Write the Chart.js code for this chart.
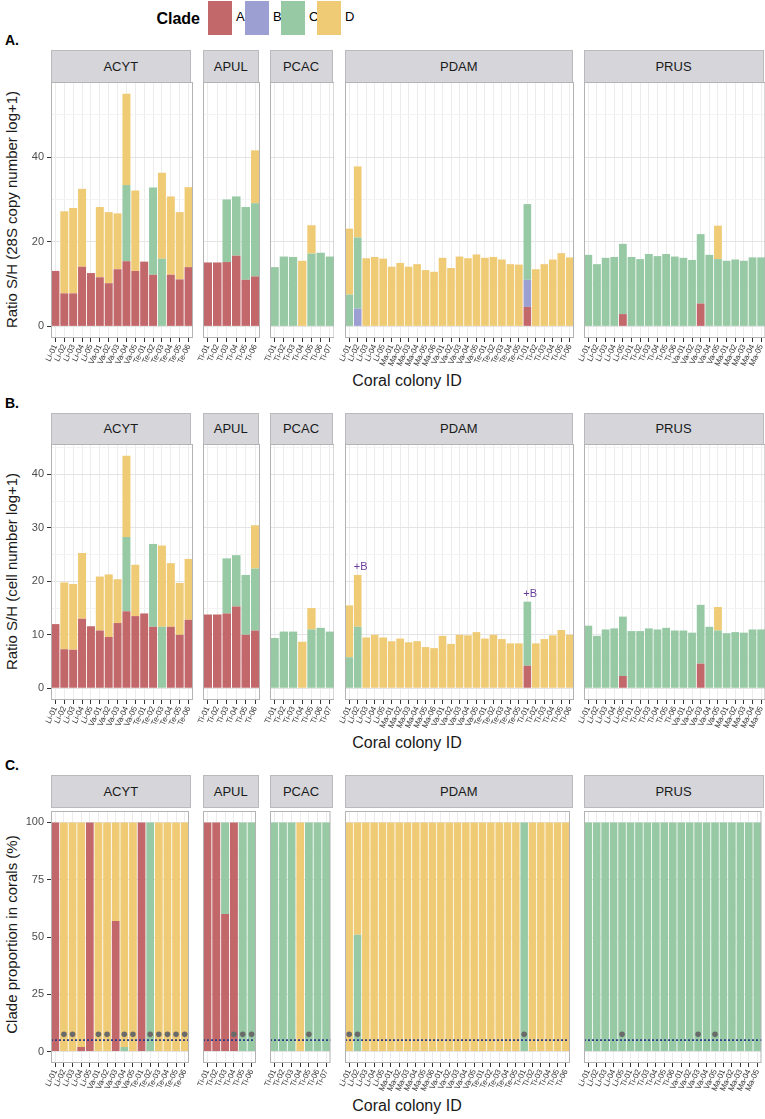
<!DOCTYPE html>
<html lang="en">
<head>
<meta charset="UTF-8">
<title>Clade ratios per coral colony</title>
<style>
    body { margin: 0; background: #fff; font-family: "Liberation Sans", Arial, sans-serif; }
    #page { position: relative; width: 765px; height: 1119px; overflow: hidden; }
    .box { position: absolute; }
    .strip { position: absolute; box-sizing: border-box; background: #d5d5da; border: 1px solid #b9b9be;
             color: #1a1a1a; font-size: 13px; display: flex; align-items: center; justify-content: center; }
    .ytitle { position: absolute; width: 320px; margin-left: -160px; text-align: center; font-size: 15px;
              color: #1a1a1a; transform: rotate(-90deg); white-space: nowrap; }
    .xtitle { position: absolute; left: 50px; width: 714px; text-align: center; font-size: 16px; color: #1a1a1a; }
    .tag { position: absolute; left: 5px; font-weight: bold; font-size: 14px; }
    .key { position: absolute; width: 24px; height: 34px; top: 1px; }
    .keylab { position: absolute; top: 9px; font-size: 13px; }
</style>
</head>
<body>
<div id="page"></div>
<script src="https://cdn.jsdelivr.net/npm/chart.js@4.4.1/dist/chart.umd.min.js"></script>
<script>
    'use strict';

    // colonies per coral species (facets)
    var facetNames = ['ACYT', 'APUL', 'PCAC', 'PDAM', 'PRUS'];
    var idsACYT = ['Li-01', 'Li-02', 'Li-03', 'Li-04', 'Li-05', 'Va-01', 'Va-02', 'Va-03', 'Va-04', 'Va-05',
        'Te-01', 'Te-02', 'Te-03', 'Te-04', 'Te-05', 'Te-06'];
    var idsAPUL = ['Ti-01', 'Ti-02', 'Ti-03', 'Ti-04', 'Ti-05', 'Ti-06'];
    var idsPCAC = ['Ti-01', 'Ti-02', 'Ti-03', 'Ti-04', 'Ti-05', 'Ti-06', 'Ti-07'];
    var idsPDAM = ['Li-01', 'Li-02', 'Li-03', 'Li-04', 'Li-05', 'Ma-01', 'Ma-02', 'Ma-03', 'Ma-04', 'Ma-05', 'Ma-06',
        'Va-01', 'Va-02', 'Va-03', 'Va-04', 'Va-05', 'Te-01', 'Te-02', 'Te-03', 'Te-04', 'Te-05',
        'Ti-01', 'Ti-02', 'Ti-03', 'Ti-04', 'Ti-05', 'Ti-06'];
    var idsPRUS = ['Li-01', 'Li-02', 'Li-03', 'Li-04', 'Li-05', 'Ti-01', 'Ti-02', 'Ti-03', 'Ti-04', 'Ti-05', 'Ti-06',
        'Va-01', 'Va-02', 'Va-03', 'Va-04', 'Va-05', 'Ma-01', 'Ma-02', 'Ma-03', 'Ma-04', 'Ma-05'];
    var facetIds = [idsACYT, idsAPUL, idsPCAC, idsPDAM, idsPRUS];

    var clades = ['A', 'B', 'C', 'D'];
    var cladeColors = ['#c2686a', '#9c9fd2', '#96c9a4', '#f0cb76'];

    // A. ratio S/H, 28S copy number (segment heights, colonies in facet order: ACYT, APUL, PCAC, PDAM, PRUS)
    var copyA = [13.1, 7.8, 7.8, 14.1, 12.6, 11.6, 10.2, 13.5, 15.4, 13.1, 15.3, 12.2, 0, 12.2, 11.1, 14.0,
        15.1, 15.1, 15.2, 16.7, 11.0, 11.8,
        0, 0, 0, 0, 0, 0, 0,
        0, 0, 0, 0, 0, 0, 0, 0, 0, 0, 0, 0, 0, 0, 0, 0, 0, 0, 0, 0, 0, 4.6, 0, 0, 0, 0, 0,
        0, 0, 0, 0, 2.9, 0, 0, 0, 0, 0, 0, 0, 0, 5.4, 0, 0, 0, 0, 0, 0, 0];
    var copyB = [0, 0, 0, 0, 0, 0, 0, 0, 0, 0, 0, 0, 0, 0, 0, 0,
        0, 0, 0, 0, 0, 0,
        0, 0, 0, 0, 0, 0, 0,
        0, 4.2, 0, 0, 0, 0, 0, 0, 0, 0, 0, 0, 0, 0, 0, 0, 0, 0, 0, 0, 0, 6.4, 0, 0, 0, 0, 0,
        0, 0, 0, 0, 0, 0, 0, 0, 0, 0, 0, 0, 0, 0, 0, 0, 0, 0, 0, 0, 0];
    var copyC = [0, 0, 0, 0, 0, 0, 0, 0, 18.0, 0, 0, 20.6, 16.0, 0, 0, 0,
        0, 0, 14.8, 14.0, 17.2, 17.3,
        14.0, 16.5, 16.4, 0, 17.2, 17.4, 16.5,
        7.5, 16.8, 0, 0, 0, 0, 0, 0, 0, 0, 0, 0, 0, 0, 0, 0, 0, 0, 0, 0, 0, 17.9, 0, 0, 0, 0, 0,
        16.9, 14.7, 16.2, 16.4, 16.6, 16.4, 15.9, 17.1, 16.6, 17.1, 16.5, 16.2, 15.7, 16.4, 16.9, 15.9, 15.5, 15.8, 15.5, 16.3, 16.3];
    var copyD = [0, 19.4, 20.2, 18.4, 0, 16.6, 16.8, 13.2, 21.6, 19.0, 0, 0, 20.3, 18.5, 15.9, 18.9,
        0, 0, 0, 0, 0, 12.5,
        0, 0, 0, 15.5, 6.7, 0, 0,
        15.6, 16.8, 16.1, 16.4, 16.0, 14.1, 15.0, 14.1, 14.7, 13.3, 12.9, 16.2, 13.8, 16.5, 16.1, 17.0, 16.2, 16.4, 15.8, 14.7, 14.6, 0, 13.5, 14.7, 15.8, 17.3, 16.3,
        0, 0, 0, 0, 0, 0, 0, 0, 0, 0, 0, 0, 0, 0, 0, 7.9, 0, 0, 0, 0, 0];

    // B. ratio S/H, cell number
    var cellA = [12.0, 7.3, 7.2, 13.0, 11.6, 10.8, 9.6, 12.2, 14.4, 13.5, 14.0, 11.5, 0, 11.5, 10.0, 12.8,
        13.8, 13.8, 14.0, 15.3, 10.0, 10.8,
        0, 0, 0, 0, 0, 0, 0,
        0, 0, 0, 0, 0, 0, 0, 0, 0, 0, 0, 0, 0, 0, 0, 0, 0, 0, 0, 0, 0, 4.2, 0, 0, 0, 0, 0,
        0, 0, 0, 0, 2.3, 0, 0, 0, 0, 0, 0, 0, 0, 4.6, 0, 0, 0, 0, 0, 0, 0];
    var cellB = copyB.map(function () { return 0; });
    var cellC = [0, 0, 0, 0, 0, 0, 0, 0, 13.9, 0, 0, 15.5, 11.5, 0, 0, 0,
        0, 0, 10.3, 9.6, 11.2, 11.6,
        9.4, 10.6, 10.6, 0, 11.0, 11.3, 10.6,
        5.8, 11.5, 0, 0, 0, 0, 0, 0, 0, 0, 0, 0, 0, 0, 0, 0, 0, 0, 0, 0, 0, 12.0, 0, 0, 0, 0, 0,
        11.7, 9.8, 11.0, 11.2, 11.1, 10.7, 10.7, 11.2, 11.0, 11.3, 10.8, 10.8, 10.4, 11.0, 11.5, 10.8, 10.3, 10.5, 10.4, 11.0, 11.0];
    var cellD = [0, 12.5, 12.3, 12.3, 0, 10.1, 11.7, 8.2, 15.2, 9.6, 0, 0, 15.2, 11.9, 9.7, 11.4,
        0, 0, 0, 0, 0, 8.1,
        0, 0, 0, 8.7, 4.0, 0, 0,
        9.7, 9.7, 9.5, 10.0, 9.5, 8.8, 9.3, 8.6, 8.8, 7.7, 7.5, 9.8, 8.3, 10.0, 9.9, 10.5, 9.3, 10.0, 9.2, 8.4, 8.4, 0, 8.4, 9.2, 9.9, 10.9, 10.0,
        0, 0, 0, 0, 0, 0, 0, 0, 0, 0, 0, 0, 0, 0, 0, 4.4, 0, 0, 0, 0, 0];
    var cellNotes = [[3, 1, '+B'], [3, 21, '+B']];   // [facet, colony index, label]

    // C. clade proportion in corals (%)
    var propA = [100, 0, 0, 2, 100, 0, 0, 57, 0, 0, 100, 0, 0, 0, 0, 0,
        100, 100, 60, 100, 0, 0,
        0, 0, 0, 0, 0, 0, 0,
        0, 0, 0, 0, 0, 0, 0, 0, 0, 0, 0, 0, 0, 0, 0, 0, 0, 0, 0, 0, 0, 0, 0, 0, 0, 0, 0,
        0, 0, 0, 0, 0, 0, 0, 0, 0, 0, 0, 0, 0, 0, 0, 0, 0, 0, 0, 0, 0];
    var propB = copyB.map(function () { return 0; });
    var propC = [0, 0, 0, 0, 0, 0, 0, 0, 2, 0, 0, 100, 0, 0, 0, 0,
        0, 0, 40, 0, 100, 100,
        100, 100, 100, 0, 100, 100, 100,
        0, 51, 0, 0, 0, 0, 0, 0, 0, 0, 0, 0, 0, 0, 0, 0, 0, 0, 0, 0, 0, 100, 0, 0, 0, 0, 0,
        100, 100, 100, 100, 100, 100, 100, 100, 100, 100, 100, 100, 100, 100, 100, 100, 100, 100, 100, 100, 100];
    var propD = [0, 100, 100, 98, 0, 100, 100, 43, 98, 100, 0, 0, 100, 100, 100, 100,
        0, 0, 0, 0, 0, 0,
        0, 0, 0, 100, 0, 0, 0,
        100, 49, 100, 100, 100, 100, 100, 100, 100, 100, 100, 100, 100, 100, 100, 100, 100, 100, 100, 100, 100, 0, 100, 100, 100, 100, 100,
        0, 0, 0, 0, 0, 0, 0, 0, 0, 0, 0, 0, 0, 0, 0, 0, 0, 0, 0, 0, 0];
    // grey dots drawn above these colonies
    var propDots = [0, 1, 1, 0, 0, 1, 1, 0, 1, 1, 0, 1, 1, 1, 1, 1,
        0, 0, 0, 1, 1, 1,
        0, 0, 0, 0, 1, 0, 0,
        1, 1, 0, 0, 0, 0, 0, 0, 0, 0, 0, 0, 0, 0, 0, 0, 0, 0, 0, 0, 0, 1, 0, 0, 0, 0, 0,
        0, 0, 0, 0, 1, 0, 0, 0, 0, 0, 0, 0, 0, 1, 0, 1, 0, 0, 0, 0, 0];
    var propDotY = 7.5;
    var propLine = 5;

    // layout (px)
    var facetX = [[50.5, 191], [203, 258.5], [269.5, 332.5], [345, 572.5], [583.5, 763.5]];
    var stripH = 31.5, panelH = 256, xAxisH = 40;

    var rows = [
        {tag: 'A.', stripTop: 50, title: 'Ratio S/H (28S copy number log+1)',
            series: [copyA, copyB, copyC, copyD], min: -2.75, max: 57.75, step: 20, minorStep: 10},
        {tag: 'B.', stripTop: 412.7, title: 'Ratio S/H (cell number log+1)',
            series: [cellA, cellB, cellC, cellD], min: -2.2, max: 45.7, step: 10, minorStep: 5, notes: cellNotes},
        {tag: 'C.', stripTop: 775.4, title: 'Clade proportion in corals (%)',
            series: [propA, propB, propC, propD], min: -5, max: 105, step: 25, minorStep: 12.5, dots: propDots, hline: propLine}
    ];

    var page = document.getElementById('page');

    function addEl(cls, css, text) {
        var el = document.createElement('div');
        el.className = cls;
        for (var k in css) el.style[k] = css[k];
        if (text !== undefined) el.textContent = text;
        page.appendChild(el);
        return el;
    }

    // legend
    addEl('box', {left: '110px', width: '90px', textAlign: 'right', top: '10px', fontWeight: 'bold', fontSize: '16px'}, 'Clade');
    var keyX = [208, 245, 281, 317];
    clades.forEach(function (c, i) {
        addEl('key', {left: keyX[i] + 'px', background: cladeColors[i]});
        addEl('keylab', {left: (keyX[i] + 28) + 'px'}, c);
    });

    // border, reference line and notes on each panel
    var panelDeco = {
        id: 'panelDeco',
        afterDatasetsDraw: function (chart, args, opts) {
            var ctx = chart.ctx, a = chart.chartArea, sx = chart.scales.x, sy = chart.scales.y;
            ctx.save();
            if (opts.hline !== undefined && opts.hline !== null) {
                var hy = sy.getPixelForValue(opts.hline);
                ctx.strokeStyle = '#2f3d86';
                ctx.lineWidth = 1.6;
                ctx.setLineDash([2, 2]);
                ctx.beginPath();
                ctx.moveTo(a.left, hy);
                ctx.lineTo(a.right, hy);
                ctx.stroke();
                ctx.setLineDash([]);
            }
            (opts.notes || []).forEach(function (n) {
                var top = 0;
                chart.data.datasets.forEach(function (ds) {
                    if (ds.type !== 'line') top += ds.data[n[0]] || 0;
                });
                ctx.fillStyle = '#6a3d9a';
                ctx.font = '11px "Liberation Sans", Arial, sans-serif';
                ctx.textAlign = 'left';
                ctx.textBaseline = 'bottom';
                ctx.fillText(n[1], sx.getPixelForValue(n[0]) - 4, sy.getPixelForValue(top) - 2);
            });
            ctx.strokeStyle = '#b3b3b3';
            ctx.lineWidth = 1;
            ctx.strokeRect(a.left + 0.5, a.top + 0.5, a.width - 1, a.height - 1);
            ctx.restore();
        }
    };

    rows.forEach(function (row, r) {
        var panelTop = row.stripTop + stripH;
        addEl('tag', {top: (row.stripTop - 18) + 'px'}, row.tag);
        addEl('ytitle', {left: '11px', top: (panelTop + panelH / 2 - 9) + 'px'}, row.title);
        addEl('xtitle', {top: (panelTop + panelH + 34) + 'px'}, 'Coral colony ID');

        var offset = 0;
        facetNames.forEach(function (name, f) {
            var ids = facetIds[f];
            var n = ids.length;
            var pl = facetX[f][0], pr = facetX[f][1];
            var yw = f === 0 ? 28 : 12;

            addEl('strip', {left: pl + 'px', top: row.stripTop + 'px', width: (pr - pl) + 'px', height: (stripH + 1) + 'px'}, name);

            var box = addEl('box', {left: (pl - yw) + 'px', top: panelTop + 'px',
                width: (pr - pl + yw + 1.5) + 'px', height: (panelH + xAxisH) + 'px'});
            var canvas = document.createElement('canvas');
            box.appendChild(canvas);

            var datasets = clades.map(function (c, k) {
                return {
                    label: c,
                    data: row.series[k].slice(offset, offset + n),
                    backgroundColor: cladeColors[k],
                    borderWidth: 0,
                    categoryPercentage: 1,
                    barPercentage: 0.9,
                    order: 1
                };
            });
            if (row.dots) {
                datasets.push({
                    type: 'line', label: 'flag', stack: 'dots', showLine: false, order: 0,
                    data: row.dots.slice(offset, offset + n).map(function (d) { return d ? propDotY : null; }),
                    pointRadius: 2.8, pointBackgroundColor: '#6a6a6a', pointBorderColor: '#6a6a6a', pointBorderWidth: 0
                });
            }
            var notes = (row.notes || []).filter(function (nt) { return nt[0] === f; })
                .map(function (nt) { return [nt[1], nt[2]]; });

            var ticks = [];
            for (var v = 0; v <= row.max; v += row.minorStep) ticks.push(Math.round(v * 10) / 10);

            new Chart(canvas, {
                type: 'bar',
                data: {labels: ids, datasets: datasets},
                plugins: [panelDeco],
                options: {
                    responsive: true,
                    maintainAspectRatio: false,
                    animation: false,
                    layout: {padding: 0},
                    plugins: {
                        legend: {display: false},
                        tooltip: {enabled: false},
                        panelDeco: {hline: row.hline, notes: notes}
                    },
                    scales: {
                        x: {
                            stacked: true,
                            offset: true,
                            border: {display: false},
                            grid: {offset: false, color: '#ececec', tickColor: '#333', tickLength: 4, drawTicks: true},
                            ticks: {autoSkip: false, minRotation: 65, maxRotation: 65, padding: 1,
                                color: '#333', font: {family: '"Liberation Sans", Arial, sans-serif', size: 8}},
                            afterFit: function (s) {
                                s.height = xAxisH;
                                s.paddingLeft = 0; s.paddingRight = 0;
                            }
                        },
                        y: {
                            stacked: true,
                            min: row.min,
                            max: row.max,
                            border: {display: false},
                            afterBuildTicks: function (s) {
                                s.ticks = ticks.map(function (t) { return {value: t}; });
                            },
                            grid: {
                                drawTicks: f === 0,
                                tickLength: 4,
                                color: function (c) {
                                    return (c.tick && c.tick.value % row.step === 0) ? '#e4e4e4' : '#f3f3f3';
                                },
                                tickColor: function (c) {
                                    return (c.tick && c.tick.value % row.step === 0) ? '#333' : 'rgba(0,0,0,0)';
                                }
                            },
                            ticks: {
                                display: f === 0,
                                padding: 3,
                                color: '#4d4d4d',
                                font: {family: '"Liberation Sans", Arial, sans-serif', size: 11},
                                callback: function (val) { return val % row.step === 0 ? val : ''; }
                            },
                            afterFit: function (s) {
                                s.width = yw;
                                s.paddingTop = 0; s.paddingBottom = 0;
                            }
                        }
                    }
                }
            });
            offset += n;
        });
    });
</script>
</body>
</html>
